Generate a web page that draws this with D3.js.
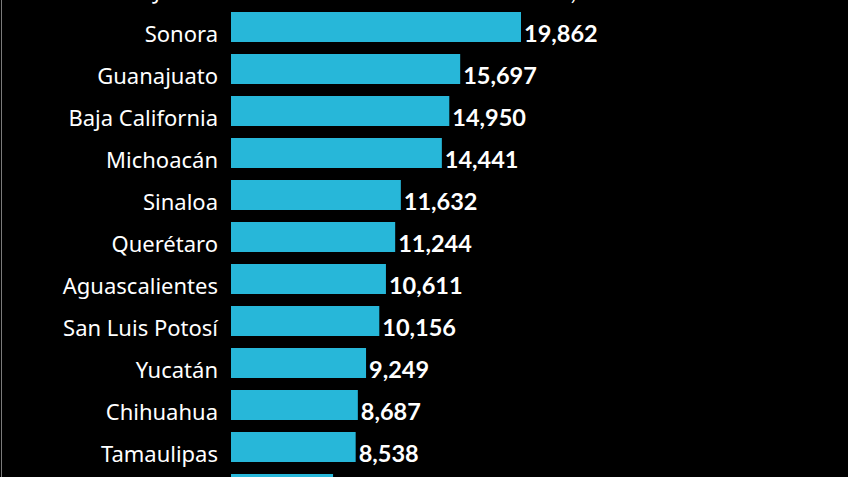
<!DOCTYPE html>
<html>
<head>
<meta charset="utf-8">
<script src="https://cdn.jsdelivr.net/npm/d3@7"></script>
<style>
  html, body { margin: 0; padding: 0; background: #000; }
  svg { display: block; }
</style>
</head>
<body>
<svg id="chart" width="848" height="477"></svg>
<script>
// Data (top and bottom rows are partly cut off in the reference)
const states = ["Jalisco", "Sonora", "Guanajuato", "Baja California", "Michoacán", "Sinaloa",
  "Querétaro", "Aguascalientes", "San Luis Potosí", "Yucatán", "Chihuahua", "Tamaulipas", "Veracruz"];
const values = [21185, 19862, 15697, 14950, 14441, 11632, 11244, 10611, 10156, 9249, 8687, 8538, 6990];

const W = 848, H = 477;
const svg = d3.select("#chart");

svg.append("rect").attr("x", 0).attr("y", 0).attr("width", W).attr("height", H).attr("fill", "#000");
svg.append("line").attr("x1", 1.5).attr("x2", 1.5).attr("y1", 0).attr("y2", H)
  .attr("stroke", "#7a7a7a").attr("stroke-width", 1);

const x = d3.scaleLinear().domain([0, 19862]).range([231, 521]);
const y = d3.scaleBand().domain(states).range([-36, -36 + states.length * 42])
  .paddingInner(12 / 42).paddingOuter(6 / 42);

const data = states.map((s, i) => ({ s, v: values[i] }));
const fmt = d3.format(",");

const g = svg.append("g");

g.selectAll("rect.bar").data(data).join("rect")
  .attr("class", "bar")
  .attr("x", x(0))
  .attr("y", d => y(d.s))
  .attr("width", d => x(d.v) - x(0))
  .attr("height", y.bandwidth())
  .attr("fill", "#27b7d9");

g.selectAll("text.lab").data(data).join("text")
  .attr("class", "lab")
  .attr("x", 218)
  .attr("y", d => y(d.s) + y.bandwidth() - 0.5)
  .attr("text-anchor", "end")
  .attr("fill", "#ffffff")
  .style("font-family", "'Noto Sans', sans-serif")
  .style("font-size", "22px")
  .text(d => d.s);

g.selectAll("text.val").data(data).join("text")
  .attr("class", "val")
  .attr("x", d => x(d.v) + 3)
  .attr("y", d => y(d.s) + y.bandwidth() - 0.5)
  .attr("fill", "#ffffff")
  .style("font-family", "Lato, sans-serif")
  .style("font-weight", "700")
  .style("font-size", "23.5px")
  .text(d => fmt(d.v));
</script>
</body>
</html>
